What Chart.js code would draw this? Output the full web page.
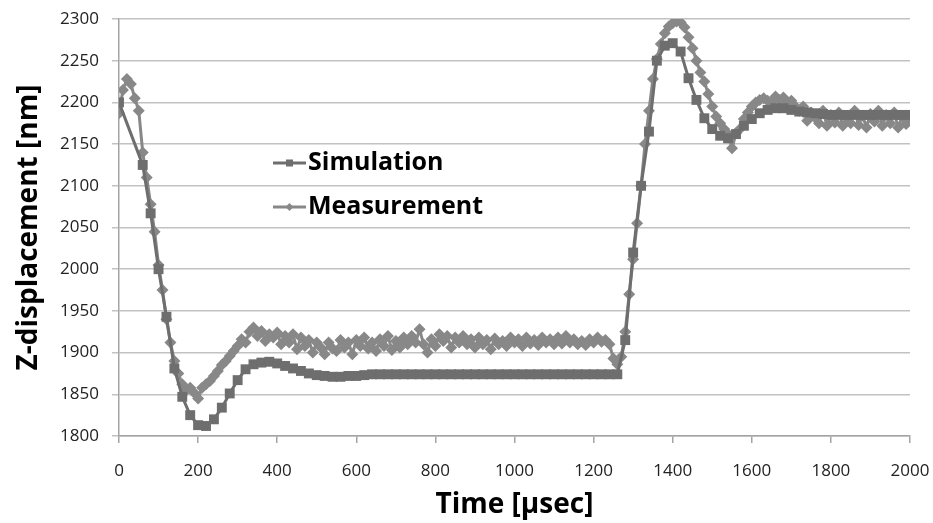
<!DOCTYPE html>
<html>
<head>
<meta charset="utf-8">
<script src="https://cdn.jsdelivr.net/npm/chart.js@4.4.1/dist/chart.umd.min.js"></script>
<style>
  body { margin: 0; background: #fff; }
  #wrap { width: 933px; height: 523px; }
</style>
</head>
<body>
<div id="wrap"><canvas id="zChart" width="933" height="523"></canvas></div>
<script>
const seriesNames = ['Simulation', 'Measurement'];

const xTicks = [0, 200, 400, 600, 800, 1000, 1200, 1400, 1600, 1800, 2000];
const yTicks = [1800, 1850, 1900, 1950, 2000, 2050, 2100, 2150, 2200, 2250, 2300];

// simulation, 20 usec steps after the first point
const simTime = [0, 60, 80, 100, 120, 140, 160, 180, 200, 220, 240, 260, 280, 300, 320, 340, 360, 380, 400,
  420, 440, 460, 480, 500, 520, 540, 560, 580, 600, 620, 640, 660, 680, 700, 720, 740, 760, 780, 800,
  820, 840, 860, 880, 900, 920, 940, 960, 980, 1000, 1020, 1040, 1060, 1080, 1100, 1120, 1140, 1160, 1180, 1200,
  1220, 1240, 1260, 1280, 1300, 1320, 1340, 1360, 1380, 1400, 1420, 1440, 1460, 1480, 1500, 1520, 1540, 1560, 1580, 1600,
  1620, 1640, 1660, 1680, 1700, 1720, 1740, 1760, 1780, 1800, 1820, 1840, 1860, 1880, 1900, 1920, 1940, 1960, 1980, 2000];
const simValues = [2200, 2125, 2067, 2000, 1943, 1881, 1847, 1825, 1813, 1812, 1820, 1834, 1851, 1867, 1880, 1886, 1888, 1889, 1887,
  1884, 1881, 1878, 1875, 1873, 1872, 1871, 1871, 1872, 1872, 1873, 1874, 1874, 1874, 1874, 1874, 1874, 1874, 1874, 1874,
  1874, 1874, 1874, 1874, 1874, 1874, 1874, 1874, 1874, 1874, 1874, 1874, 1874, 1874, 1874, 1874, 1874, 1874, 1874, 1874,
  1874, 1874, 1874, 1915, 2020, 2100, 2165, 2250, 2268, 2271, 2261, 2229, 2203, 2181, 2168, 2160, 2157, 2162, 2172, 2180,
  2187, 2191, 2193, 2193, 2191, 2189, 2188, 2187, 2186, 2185, 2185, 2185, 2185, 2185, 2185, 2185, 2185, 2185, 2185, 2185];

// measurement, 10 usec steps
const measTime = [];
for (let t = 0; t <= 2000; t += 10) measTime.push(t);
const measValues = [
  2187, 2215, 2228, 2222, 2205, 2190, 2140, 2110, 2078, 2045,
  2005, 1975, 1940, 1912, 1890, 1875, 1862, 1855, 1858, 1852,
  1845, 1858, 1862, 1866, 1872, 1878, 1885, 1890, 1896, 1902,
  1908, 1916, 1912, 1925, 1930, 1920, 1926, 1914, 1922, 1918,
  1924, 1910, 1920, 1912, 1922, 1904, 1918, 1908, 1915, 1900,
  1912, 1906, 1898, 1912, 1905, 1902, 1915, 1906, 1912, 1898,
  1915, 1908, 1918, 1905, 1912, 1902, 1916, 1908, 1920, 1903,
  1914, 1906, 1918, 1910, 1920, 1912, 1928, 1910, 1900, 1916,
  1908, 1922, 1914, 1920, 1906, 1918, 1912, 1920, 1910, 1916,
  1906, 1918, 1910, 1915, 1904, 1917, 1910, 1914, 1908, 1918,
  1912, 1916, 1908, 1918, 1911, 1915, 1909, 1918, 1912, 1916,
  1910, 1918, 1911, 1920, 1912, 1916, 1910, 1914, 1909, 1916,
  1912, 1918, 1913, 1915, 1910, 1893, 1886, 1895, 1925, 1970,
  2012, 2055, 2100, 2150, 2190, 2228, 2252, 2270, 2283, 2291,
  2295, 2297, 2296, 2290, 2278, 2265, 2250, 2236, 2225, 2210,
  2195, 2183, 2175, 2168, 2162, 2145, 2163, 2168, 2180, 2188,
  2195, 2200, 2203, 2205, 2202, 2200, 2207, 2203, 2206, 2198,
  2202, 2195, 2190, 2195, 2178, 2188, 2182, 2175, 2190, 2172,
  2185, 2176, 2188, 2172, 2183, 2175, 2190, 2173, 2184, 2170,
  2186, 2177, 2190, 2172, 2185, 2175, 2188, 2170, 2183, 2174,
  2180];

const simColor = '#6e6e6e';
const measColor = '#888888';
const gridColor = '#c2c2c2';
const axisColor = '#a4a4a4';

function toPoints(xs, ys) {
  return xs.map((x, i) => ({ x: x, y: ys[i] }));
}

// legend sits inside the plot, Excel style
const insideLegend = {
  id: 'insideLegend',
  afterDraw(chart) {
    const ctx = chart.ctx;
    const rows = [
      { label: seriesNames[0], color: simColor, y: 163, shape: 'square' },
      { label: seriesNames[1], color: measColor, y: 207, shape: 'diamond' }
    ];
    ctx.save();
    rows.forEach(r => {
      ctx.strokeStyle = r.color;
      ctx.fillStyle = r.color;
      ctx.lineWidth = 3;
      ctx.beginPath();
      ctx.moveTo(273, r.y);
      ctx.lineTo(306, r.y);
      ctx.stroke();
      ctx.beginPath();
      if (r.shape === 'square') {
        ctx.rect(286, r.y - 3.5, 7, 7);
      } else {
        ctx.moveTo(289.5, r.y - 4);
        ctx.lineTo(293.5, r.y);
        ctx.lineTo(289.5, r.y + 4);
        ctx.lineTo(285.5, r.y);
        ctx.closePath();
      }
      ctx.fill();
      ctx.fillStyle = '#000';
      ctx.font = 'bold 25px "Open Sans"';
      ctx.textBaseline = 'middle';
      ctx.textAlign = 'left';
      ctx.fillText(r.label, 308, r.y);
    });
    ctx.restore();
  }
};

const ctx = document.getElementById('zChart').getContext('2d');
new Chart(ctx, {
  type: 'line',
  data: {
    datasets: [{
      label: seriesNames[0],
      data: toPoints(simTime, simValues),
      borderColor: simColor,
      backgroundColor: simColor,
      borderWidth: 3,
      pointStyle: 'rect',
      pointRadius: 7,
      pointBorderWidth: 0,
      tension: 0
    }, {
      label: seriesNames[1],
      data: toPoints(measTime, measValues),
      borderColor: measColor,
      backgroundColor: measColor,
      borderWidth: 3,
      pointStyle: 'rectRot',
      pointRadius: 6,
      pointBorderWidth: 0,
      tension: 0
    }]
  },
  options: {
    responsive: false,
    animation: false,
    layout: { padding: { left: 0, top: 19, right: 23, bottom: 0 } },
    plugins: {
      legend: { display: false },
      tooltip: { enabled: false }
    },
    scales: {
      x: {
        type: 'linear',
        min: 0,
        max: 2000,
        afterBuildTicks: s => { s.ticks = xTicks.map(v => ({ value: v })); },
        afterFit: s => { s.height = 87; s.paddingLeft = 0; s.paddingRight = 0; },
        ticks: {
          color: '#222',
          font: { family: '"Open Sans"', size: 17 },
          padding: 18,
          maxRotation: 0,
          callback: v => String(v)
        },
        grid: { drawOnChartArea: false, color: axisColor, lineWidth: 1.5, tickLength: 7 },
        border: { color: axisColor, width: 1.5 },
        title: {
          display: true,
          text: 'Time [µsec]',
          color: '#000',
          font: { family: '"Open Sans"', size: 28, weight: 'bold' },
          padding: { top: 0, bottom: 1 }
        }
      },
      y: {
        min: 1800,
        max: 2300,
        afterBuildTicks: s => { s.ticks = yTicks.map(v => ({ value: v })); },
        afterFit: s => { s.width = 119; s.paddingTop = 0; s.paddingBottom = 0; },
        ticks: {
          color: '#222',
          font: { family: '"Open Sans"', size: 17 },
          padding: 13,
          callback: v => String(v)
        },
        grid: { color: gridColor, lineWidth: 1.5, tickLength: 7 },
        border: { color: axisColor, width: 1.5 },
        title: {
          display: true,
          text: 'Z-displacement [nm]',
          color: '#000',
          font: { family: '"Open Sans"', size: 28, weight: 'bold' },
          padding: { top: 12, bottom: 0 }
        }
      }
    }
  },
  plugins: [insideLegend]
});
</script>
</body>
</html>
